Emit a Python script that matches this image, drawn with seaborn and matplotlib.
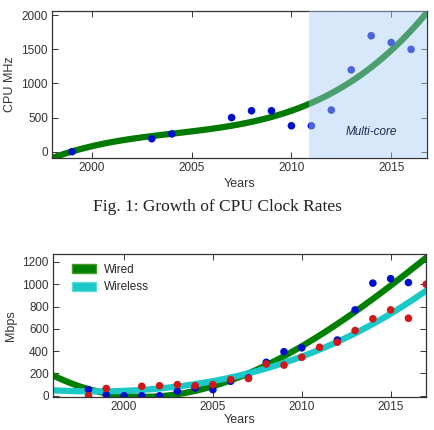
import numpy as np
import pandas as pd
import matplotlib
matplotlib.use("Agg")
import matplotlib.pyplot as plt
import seaborn as sns
from matplotlib.patches import Patch

sns.set_theme(style="white")
plt.rcParams['font.family'] = ['Liberation Sans', 'DejaVu Sans']

# --- data: CPU clock rates ---
cpu_years = [1999, 2003, 2004, 2007, 2008, 2009, 2010, 2011, 2012, 2013, 2014, 2015, 2016]
cpu_mhz = [0, 190, 260, 500, 600, 600, 380, 380, 610, 1200, 1700, 1600, 1500]

# --- data: network bandwidth ---
wired_years = [1998, 1999, 2000, 2001, 2002, 2003, 2004, 2005, 2006, 2007, 2008, 2009, 2010, 2012, 2013, 2014, 2015, 2016]
wired_mbps = [55, 10, 0, 0, 0, 40, 70, 55, 130, 160, 300, 395, 430, 500, 770, 1010, 1050, 1015]
wireless_years = [1998, 1999, 2001, 2002, 2003, 2004, 2005, 2006, 2007, 2008, 2009, 2010, 2011, 2012, 2013, 2014, 2015, 2016, 2017]
wireless_mbps = [0, 65, 85, 90, 100, 90, 100, 145, 155, 285, 275, 345, 435, 480, 585, 690, 770, 695, 1000]

cpu_df = pd.DataFrame({"Years": cpu_years, "MHz": cpu_mhz})
wired_df = pd.DataFrame({"Years": wired_years, "Mbps": wired_mbps})
wireless_df = pd.DataFrame({"Years": wireless_years, "Mbps": wireless_mbps})

fig = plt.figure(figsize=(4.34, 4.30), dpi=100)
fig.patch.set_facecolor("white")

def style_axes(ax):
    ax.set_facecolor("white")
    for s in ax.spines.values():
        s.set_color("#333333")
        s.set_linewidth(0.9)
    ax.tick_params(direction="in", length=4, width=0.7, color="#333333",
                   labelsize=8.5, labelcolor="#333333", top=True, right=True,
                   bottom=True, left=True, pad=3)
    ax.grid(False)

# ---- top chart ----
ax1 = fig.add_axes([0.120, 0.633, 0.864, 0.341])
style_axes(ax1)
ax1.set_xlim(1998, 2016.8)
ax1.set_ylim(-90, 2060)
sns.regplot(data=cpu_df, x="Years", y="MHz", order=3, ci=None, truncate=False,
            scatter=False, ax=ax1, line_kws=dict(color="#007a00", lw=4.5, zorder=2))
sns.scatterplot(data=cpu_df, x="Years", y="MHz", ax=ax1, color="#0010c8",
                s=30, edgecolor="none", zorder=3)
ax1.axvspan(2010.9, 2017, color="#a8cdf5", alpha=0.45, lw=0, zorder=4)
ax1.text(2014, 290, "Multi-core", style="italic", fontsize=8.5, color="#1a2a4a",
         ha="center", va="center", zorder=5)
ax1.set_xlim(1998, 2016.8)
ax1.set_ylim(-90, 2060)
ax1.set_xticks([2000, 2005, 2010, 2015])
ax1.set_yticks([0, 500, 1000, 1500, 2000])
ax1.set_xlabel("Years", fontsize=9, color="#333333", labelpad=3)
ax1.set_ylabel("CPU MHz", fontsize=9, color="#333333", labelpad=4)

fig.text(0.5, 0.518, "Fig. 1: Growth of CPU Clock Rates", ha="center", va="center",
         fontsize=12.5, family=["Liberation Serif", "DejaVu Serif"], color="#222222")

# ---- bottom chart ----
ax2 = fig.add_axes([0.122, 0.077, 0.860, 0.332])
style_axes(ax2)
ax2.set_xlim(1996, 2017)
ax2.set_ylim(-10, 1270)
sns.regplot(data=wired_df, x="Years", y="Mbps", order=3, ci=None, truncate=False,
            scatter=False, ax=ax2, line_kws=dict(color="#008000", lw=4.5, zorder=2))
sns.regplot(data=wireless_df, x="Years", y="Mbps", order=3, ci=None, truncate=False,
            scatter=False, ax=ax2, line_kws=dict(color="#1ac8c8", lw=4.5, zorder=2))
sns.scatterplot(data=wired_df, x="Years", y="Mbps", ax=ax2, color="#0010c8",
                s=30, edgecolor="none", zorder=3)
sns.scatterplot(data=wireless_df, x="Years", y="Mbps", ax=ax2, color="#d01818",
                s=30, edgecolor="none", zorder=3)
ax2.set_xlim(1996, 2017)
ax2.set_ylim(-10, 1270)
ax2.set_xticks([2000, 2005, 2010, 2015])
ax2.set_yticks([0, 200, 400, 600, 800, 1000, 1200])
ax2.set_xlabel("Years", fontsize=9, color="#333333", labelpad=1)
ax2.set_ylabel("Mbps", fontsize=9, color="#333333", labelpad=4)

handles = [Patch(facecolor="#008000", edgecolor="#4a9a2a", lw=1.0, label="Wired"),
           Patch(facecolor="#1ac8c8", edgecolor="#60d8d8", lw=1.0, label="Wireless")]
ax2.legend(handles=handles, loc="upper left", frameon=False, fontsize=8.5,
           handlelength=2.0, handleheight=0.8, borderaxespad=0.3, labelspacing=0.45,
           handletextpad=0.7, bbox_to_anchor=(0.03, 0.99))

fig.savefig("out.png", dpi=100, facecolor="white")
